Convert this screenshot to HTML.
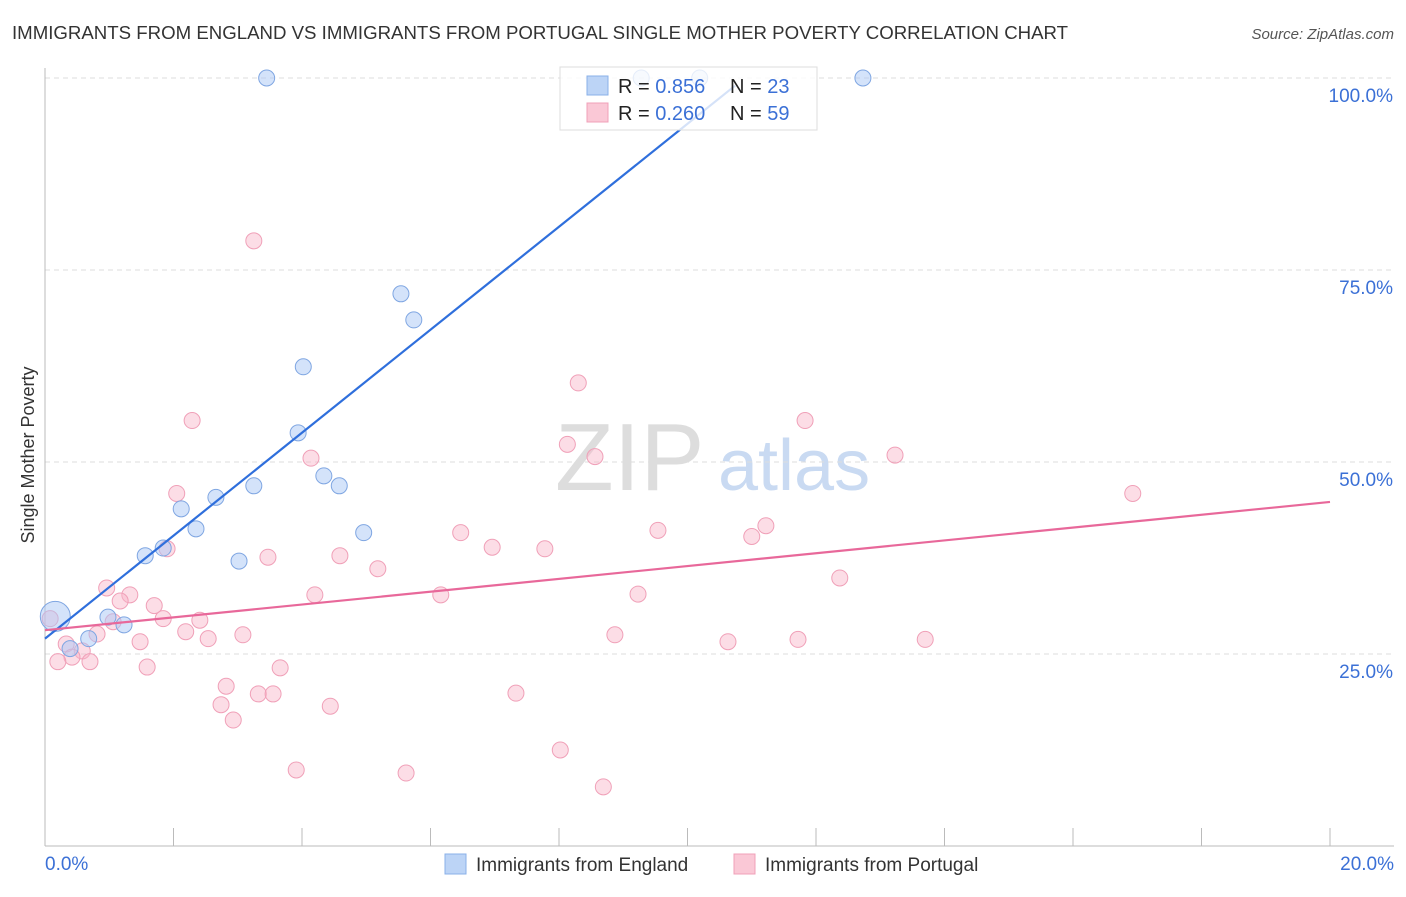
<!DOCTYPE html>
<html><head><meta charset="utf-8"><style>
body{margin:0;background:#fff;font-family:"Liberation Sans",sans-serif}
svg text{font-family:"Liberation Sans",sans-serif}
</style></head><body>
<svg width="1406" height="892" id="c">
<text x="12" y="39" font-size="18.65" fill="#333">IMMIGRANTS FROM ENGLAND VS IMMIGRANTS FROM PORTUGAL SINGLE MOTHER POVERTY CORRELATION CHART</text>
<text x="1394" y="39" font-size="15" fill="#555" font-style="italic" text-anchor="end">Source: ZipAtlas.com</text>
<text x="34" y="455" font-size="18" fill="#333" text-anchor="middle" transform="rotate(-90 34 455)">Single Mother Poverty</text>
<text x="555" y="490" font-size="96" fill="#ddd" font-family="Liberation Serif">ZIP</text>
<text x="718" y="490" font-size="72" fill="#c9daf2">atlas</text>
<g id="grid"></g>
<g id="pts"></g><g id="lines"></g>
<g>
<rect x="560" y="67" width="257" height="63" fill="#fff" fill-opacity="0.8" stroke="#ddd"/>
<rect x="587" y="76" width="21" height="19" fill="#bcd4f6" stroke="#8ab0e8"/>
<rect x="587" y="103" width="21" height="19" fill="#fac8d6" stroke="#f0a0b8"/>
<text x="618" y="93" font-size="20" fill="#222">R = <tspan fill="#3b70d6">0.856</tspan><tspan x="730">N = </tspan><tspan fill="#3b70d6">23</tspan></text>
<text x="618" y="120" font-size="20" fill="#222">R = <tspan fill="#3b70d6">0.260</tspan><tspan x="730">N = </tspan><tspan fill="#3b70d6">59</tspan></text>
</g>
<g>
<rect x="445" y="854" width="21" height="20" fill="#bcd4f6" stroke="#8ab0e8"/>
<text x="476" y="871" font-size="19" fill="#333">Immigrants from England</text>
<rect x="734" y="854" width="21" height="20" fill="#fac8d6" stroke="#f0a0b8"/>
<text x="765" y="871" font-size="19" fill="#333">Immigrants from Portugal</text>
</g>
</svg>
<script>
const yTicks=[25,50,75,100];
const xTickLabels=["0.0%","20.0%"];
const engX=[3.45,9.28,10.19,12.73,5.54,5.74,4.02,3.94,4.34,4.58,3.25,2.66,2.12,2.35,4.96,3.02,1.56,1.84,0.16,0.98,1.23,0.68,0.39];
const engY=[100,100,100,100,71.9,68.5,62.4,53.8,48.2,46.9,46.9,45.4,43.9,41.3,40.8,37.1,37.8,38.8,29.9,29.8,28.8,27,25.7];
const porX=[3.25,8.3,2.29,11.83,8.13,8.56,4.14,13.23,16.93,2.05,6.47,9.54,11.22,11.0,1.9,6.96,7.78,3.47,4.59,5.18,12.37,0.96,1.32,1.17,4.2,6.16,9.23,1.7,1.84,2.41,1.06,0.08,0.81,2.19,3.08,2.54,1.48,8.87,10.63,11.72,13.7,0.33,0.58,0.42,0.2,0.7,1.59,3.66,2.82,3.32,3.55,7.33,2.74,4.44,2.93,8.02,3.91,5.62,8.69];
const porY=[78.8,60.3,55.4,55.4,52.3,50.7,50.5,50.9,45.9,45.9,40.8,41.1,41.7,40.3,38.7,38.9,38.7,37.6,37.8,36.1,34.9,33.6,32.7,31.9,32.7,32.7,32.8,31.3,29.6,29.4,29.2,29.6,27.6,27.9,27.5,27,26.6,27.5,26.6,26.9,26.9,26.3,25.4,24.6,24,24,23.3,23.2,20.8,19.8,19.8,19.9,18.4,18.2,16.4,12.5,9.9,9.5,7.7];
const engLine=[0,27,10.74,99];
const porLine=[0,28.1,20,44.8];
const X=v=>45+v*64.25, Y=v=>846-v*7.68;
const ns="http://www.w3.org/2000/svg";
function mk(t,a,p){const e=document.createElementNS(ns,t);for(const k in a)e.setAttribute(k,a[k]);p.appendChild(e);return e;}
const g=document.getElementById('grid');
yTicks.forEach(t=>{
 const l=mk('line',{x1:45,x2:1394,y1:Y(t),y2:Y(t),stroke:'#ddd','stroke-dasharray':'5,4'},g);
 
 
 const tx=mk('text',{x:1393,y:Y(t)+24,'font-size':19,fill:'#3b70d6','text-anchor':'end'},g);
 tx.textContent=t.toFixed(1)+'%';
 
 
});
const ax=mk('line',{x1:45,x2:45,y1:68,y2:846,stroke:'#bbb'},g);


const bx=mk('line',{x1:45,x2:1394,y1:846,y2:846,stroke:'#bbb'},g);


for(let i=0;i<=10;i++){const t=mk('line',{x1:X(i*2),x2:X(i*2),y1:828,y2:846,stroke:'#bbb'},g);
 
 }
[[0,45,'start'],[1,1394,'end']].forEach(([i,x,a])=>{const t=mk('text',{x:x,y:870,'font-size':19,fill:'#3b70d6','text-anchor':a},g);t.textContent=xTickLabels[i];
 
 });
const p=document.getElementById('pts');
porX.forEach((v,i)=>{const c=mk('circle',{cx:X(v),cy:Y(porY[i]),r:8,fill:'rgba(248,180,200,0.45)',stroke:'#f0a0b8','stroke-width':1},p);
 
 });
engX.forEach((v,i)=>{const c=mk('circle',{cx:X(v),cy:Y(engY[i]),r:i==18?15:8,fill:'rgba(170,200,245,0.5)',stroke:'#7fa6e2','stroke-width':1},p);
 
 });
const L=document.getElementById('lines');
const l1=mk('line',{x1:X(engLine[0]),y1:Y(engLine[1]),x2:X(engLine[2]),y2:Y(engLine[3]),stroke:'#2f6fdc','stroke-width':2.2},L);


const l2=mk('line',{x1:X(porLine[0]),y1:Y(porLine[1]),x2:X(porLine[2]),y2:Y(porLine[3]),stroke:'#e8689a','stroke-width':2.2},L);


</script>
</body></html>
